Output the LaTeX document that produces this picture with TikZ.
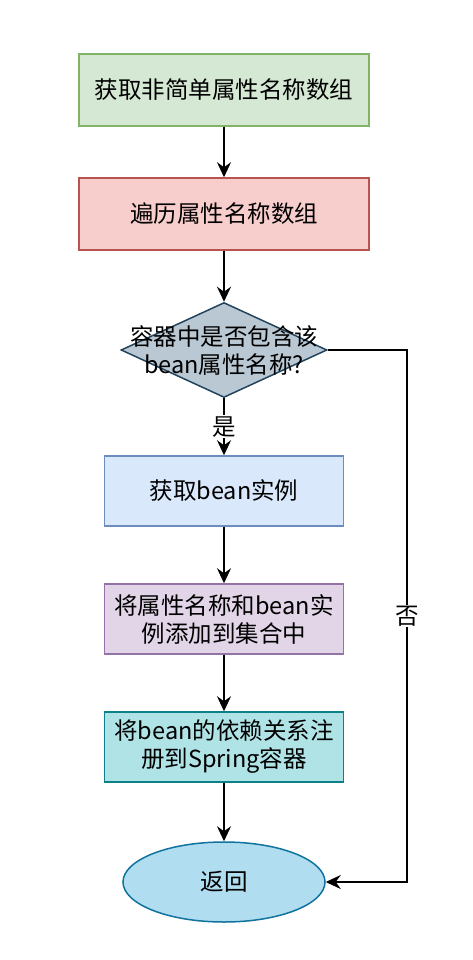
\documentclass[tikz,border=0pt]{standalone}
\usepackage{fontspec}
\setmainfont{Noto Sans CJK SC}
\usepackage{tikz}
\usetikzlibrary{arrows,arrows.meta,shapes.geometric,positioning}

\definecolor{greenfill}{HTML}{D5E8D4}\definecolor{greenline}{HTML}{82B366}
\definecolor{redfill}{HTML}{F8CECC}\definecolor{redline}{HTML}{B85450}
\definecolor{greyfill}{HTML}{BAC8D3}\definecolor{greyline}{HTML}{23445D}
\definecolor{bluefill}{HTML}{DAE8FC}\definecolor{blueline}{HTML}{6C8EBF}
\definecolor{purplefill}{HTML}{E1D5E7}\definecolor{purpleline}{HTML}{9673A6}
\definecolor{tealfill}{HTML}{B0E3E6}\definecolor{tealline}{HTML}{0E8088}
\definecolor{endfill}{HTML}{B1DDF0}\definecolor{endline}{HTML}{10739E}

\begin{document}
\begin{tikzpicture}
[x=1pt,y=-1pt,
every node/.style={font=\fontsize{23.5}{28}\selectfont,align=center},
stepbox/.style={rectangle,draw,line width=1.5pt,inner sep=0pt},
bigbox/.style={stepbox,minimum width=290pt,minimum height=72pt},
smallbox/.style={stepbox,minimum width=239pt,minimum height=70pt},
flow/.style={line width=1.6pt,-{Stealth[length=15pt,width=14pt,inset=5pt]}}]
\useasboundingbox (0,0) rectangle (472,960);
\node[bigbox,fill=greenfill,draw=greenline] (names) at (224,90){获取非简单属性名称数组};
\node[bigbox,fill=redfill,draw=redline] (loop) at (224,214){遍历属性名称数组};
\node[diamond,draw=greyline,fill=greyfill,line width=1.5pt,inner sep=0pt,
  minimum width=206pt,minimum height=95pt,
  label={[align=center]center:容器中是否包含该\\bean属性名称?}] (check) at (224,350){};
\node[smallbox,fill=bluefill,draw=blueline] (bean) at (224,491){获取bean实例};
\node[smallbox,fill=purplefill,draw=purpleline] (add) at (224,619){将属性名称和bean实\\例添加到集合中};
\node[smallbox,fill=tealfill,draw=tealline] (reg) at (224,747){将bean的依赖关系注\\册到Spring容器};
\node[ellipse,draw=endline,fill=endfill,line width=1.5pt,minimum width=202pt,minimum height=80pt] (ret) at (224,882){返回};
\coordinate (turn) at (407,350);
\draw[flow] (names)--(loop);
\draw[flow] (loop)--(check);
\draw[flow] (check)--(bean)node[midway,fill=white,inner sep=1pt]{是};
\draw[flow] (bean)--(add);
\draw[flow] (add)--(reg);
\draw[flow] (reg)--(ret);
\draw[flow] (check.east)--(turn)|-(ret.east)node[pos=0.25,fill=white,inner sep=1pt]{否};
\end{tikzpicture}
\end{document}
